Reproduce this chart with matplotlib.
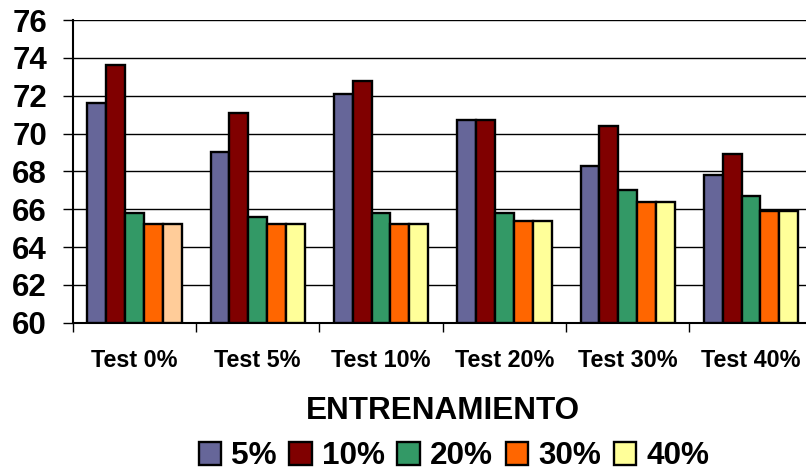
import numpy as np
import matplotlib
matplotlib.use("Agg")
import matplotlib.pyplot as plt
from matplotlib.patches import Patch
from matplotlib.ticker import FixedLocator, FixedFormatter, NullFormatter

plt.rcParams["font.family"] = ["Liberation Sans", "DejaVu Sans"]
plt.rcParams["font.weight"] = "bold"

# Test groups on the x axis
categories = ["Test 0%", "Test 5%", "Test 10%", "Test 20%", "Test 30%", "Test 40%"]

# Training percentage series
series_names = ["5%", "10%", "20%", "30%", "40%"]
train_5 = [71.6, 69.0, 72.1, 70.7, 68.3, 67.8]
train_10 = [73.6, 71.1, 72.8, 70.7, 70.4, 68.9]
train_20 = [65.8, 65.6, 65.8, 65.8, 67.0, 66.7]
train_30 = [65.2, 65.2, 65.2, 65.4, 66.4, 65.9]
train_40 = [65.2, 65.2, 65.2, 65.4, 66.4, 65.9]

y_ticks = [60, 62, 64, 66, 68, 70, 72, 74, 76]

series_colors = ["#666699", "#800000", "#339966", "#FF6600", "#FFFF99"]
# the first 40% bar is drawn in a peach tone
colors_40 = ["#FFCC99", "#FFFF99", "#FFFF99", "#FFFF99", "#FFFF99", "#FFFF99"]

W, H = 806, 472
fig = plt.figure(figsize=(W / 100, H / 100), dpi=100)
ax = fig.add_axes([72.7 / W, 149.3 / H, 740 / W, 302.7 / H])

all_series = [train_5, train_10, train_20, train_30, train_40]
n = len(all_series)
bar_w = 0.153
centers = np.arange(len(categories)) + 0.5
for j, vals in enumerate(all_series):
    cols = colors_40 if j == 4 else series_colors[j]
    ax.bar(centers + (j - (n - 1) / 2) * bar_w, np.array(vals) - 60, bottom=60,
           width=bar_w, color=cols, edgecolor="black", linewidth=1.7, zorder=3)

ax.set_xlim(0, len(categories))
ax.set_ylim(60, 76)
ax.set_yticks(y_ticks)
ax.set_yticklabels([str(t) for t in y_ticks])
ax.yaxis.grid(True, color="black", linewidth=1.0)
ax.set_axisbelow(True)

for s in ["top", "right"]:
    ax.spines[s].set_visible(False)
for s in ["left", "bottom"]:
    ax.spines[s].set_color("black")
    ax.spines[s].set_linewidth(1.5)

ax.tick_params(axis="y", direction="out", length=7.5, width=1.0, pad=11,
               labelsize=22.5, colors="black")

# major ticks mark group boundaries, minor ticks carry the labels
ax.xaxis.set_major_locator(FixedLocator(np.arange(len(categories) + 1)))
ax.xaxis.set_major_formatter(NullFormatter())
ax.xaxis.set_minor_locator(FixedLocator(centers))
ax.xaxis.set_minor_formatter(FixedFormatter(categories))
ax.tick_params(axis="x", which="major", direction="out", length=6.5, width=1.0)
ax.tick_params(axis="x", which="minor", length=0, pad=19, labelsize=16.8)
for lbl in ax.get_xticklabels(minor=True):
    lbl.set_fontweight("bold")
for lbl in ax.get_yticklabels():
    lbl.set_fontweight("bold")

ax.set_xlabel("ENTRENAMIENTO", fontsize=22.7, fontweight="bold", labelpad=17)

handles = [Patch(facecolor=c, edgecolor="black", linewidth=1.7) for c in series_colors]
fig.legend(handles, series_names, loc="center",
           bbox_to_anchor=(454 / W, (H - 456.5) / H), bbox_transform=fig.transFigure,
           ncol=5, frameon=False, handlelength=0.72, handleheight=0.72,
           handletextpad=0.32, columnspacing=0.39, borderpad=0,
           prop={"size": 22.7, "weight": "bold"})

fig.savefig("out.png", dpi=100)
